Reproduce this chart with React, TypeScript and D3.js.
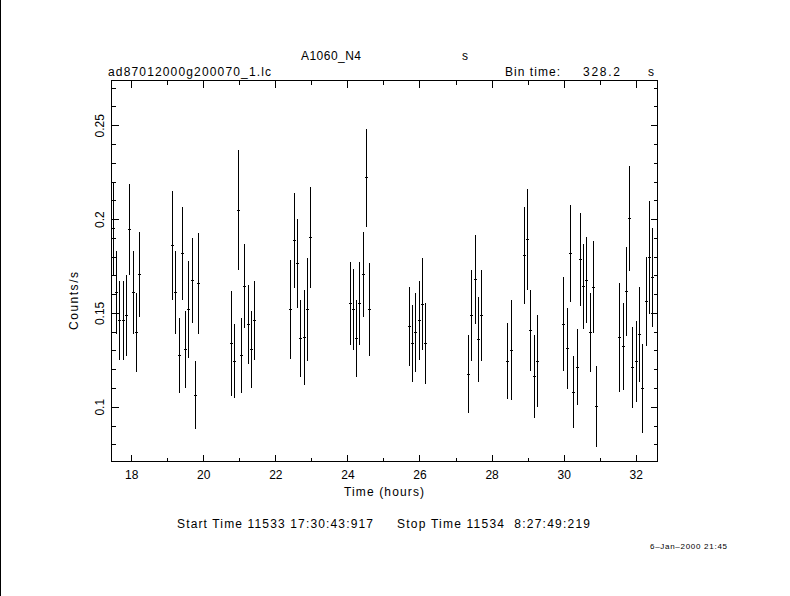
import React from "react";
import * as d3 from "d3";

// ---- data ----
const times: number[] = [
  17.490, 17.584, 17.668, 17.768, 17.851, 17.934, 18.056, 18.139, 18.212,
  19.139, 19.222, 19.322, 19.416, 19.488, 19.583, 19.683, 19.766, 19.849,
  20.776, 20.854, 20.959, 21.043, 21.126, 21.237, 21.320, 21.403,
  22.402, 22.514, 22.597, 22.680, 22.791, 22.874, 22.958,
  24.068, 24.151, 24.234, 24.318, 24.429, 24.512, 24.595,
  25.705, 25.789, 25.872, 25.983, 26.066, 26.149,
  27.343, 27.426, 27.537, 27.620, 27.704,
  28.425, 28.536, 28.897, 28.980, 29.063, 29.174, 29.258,
  29.980, 30.091, 30.174, 30.257, 30.368, 30.452, 30.535, 30.618, 30.729, 30.812, 30.896,
  31.534, 31.645, 31.728, 31.811, 31.894, 32.006, 32.089, 32.172, 32.283, 32.366, 32.450,
];
const rates: number[] = [
  0.195, 0.161, 0.1464, 0.1464, 0.1489, 0.1947, 0.161, 0.1399, 0.1707,
  0.1862, 0.161, 0.1277, 0.1819, 0.1309, 0.1521, 0.1677, 0.1064, 0.166,
  0.134, 0.1245, 0.205, 0.1277, 0.1645, 0.1441, 0.1309, 0.1463,
  0.1521, 0.1888, 0.1766, 0.1367, 0.1372, 0.1521, 0.1904,
  0.1553, 0.1521, 0.1367, 0.1553, 0.1707, 0.2223, 0.1521,
  0.1431, 0.134, 0.1399, 0.1463, 0.1549, 0.134,
  0.1176, 0.1489, 0.1681, 0.1362, 0.1489,
  0.1245, 0.1303, 0.1809, 0.1894, 0.141, 0.1165, 0.1245,
  0.1443, 0.1314, 0.1819, 0.108, 0.1213, 0.1787, 0.1644, 0.1676, 0.1399, 0.164, 0.1005,
  0.1372, 0.1324, 0.1617, 0.2005, 0.1213, 0.1245, 0.1388, 0.1101, 0.1564, 0.1798, 0.1691,
];
const errors: number[] = [
  0.0245, 0.022, 0.021, 0.021, 0.0217, 0.0242, 0.022, 0.0211, 0.0227,
  0.0291, 0.022, 0.0199, 0.0246, 0.0204, 0.026, 0.0227, 0.0182, 0.0268,
  0.0281, 0.0196, 0.0321, 0.0199, 0.0225, 0.0211, 0.0205, 0.0212,
  0.0262, 0.0254, 0.0236, 0.0207, 0.0252, 0.0273, 0.0268,
  0.022, 0.0218, 0.0207, 0.022, 0.0228, 0.0262, 0.0246,
  0.0209, 0.0204, 0.0209, 0.0212, 0.0244, 0.0215,
  0.0209, 0.0241, 0.0239, 0.0225, 0.0241,
  0.0202, 0.0266, 0.0257, 0.027, 0.0215, 0.022, 0.0245,
  0.025, 0.0216, 0.0257, 0.0193, 0.0202, 0.0246, 0.0226, 0.0229, 0.0209, 0.0245, 0.0217,
  0.0289, 0.0233, 0.0236, 0.0278, 0.0215, 0.0215, 0.0254, 0.0236, 0.0235, 0.0302, 0.0262,
];
const binTimeSec = 328.2;
const xMajorTicks: number[] = [18, 20, 22, 24, 26, 28, 30, 32];
const xMinorTicks: number[] = [19, 21, 23, 25, 27, 29, 31];
const yMajorTicks: number[] = [0.1, 0.15, 0.2, 0.25];
const yMinorTicks: number[] = [0.08, 0.09, 0.11, 0.12, 0.13, 0.14, 0.16, 0.17, 0.18, 0.19, 0.21, 0.22, 0.23, 0.24, 0.26, 0.27];
const xTickLabels: string[] = ["18", "20", "22", "24", "26", "28", "30", "32"];
const yTickLabels: string[] = ["0.1", "0.15", "0.2", "0.25"];

const W = 790;
const H = 596;
const L = 111.5, R = 657.5, T = 80.5, B = 461.5;
const FONT = "'Liberation Sans', Arial, sans-serif";

export default function App() {
  const x = d3.scaleLinear().domain([17.44, 32.59]).range([L, R]);
  const y = d3.scaleLinear().domain([0.0711, 0.2741]).range([B, T]);
  const half = binTimeSec / 3600 / 2;
  const px = (v: number) => Math.round(v - 0.5) + 0.5;

  const bars = times.map((t, i) => {
    const cx = px(x(t));
    const cy = px(y(rates[i]));
    return (
      <g key={i}>
        <line x1={cx} x2={cx} y1={y(rates[i] + errors[i])} y2={y(rates[i] - errors[i])} />
        <line x1={x(t - half)} x2={x(t + half)} y1={cy} y2={cy} />
      </g>
    );
  });

  const tickLines: JSX.Element[] = [];
  xMajorTicks.forEach((t, i) => {
    const xx = px(x(t));
    tickLines.push(<line key={"xb" + i} x1={xx} x2={xx} y1={B} y2={B - 7} />);
    tickLines.push(<line key={"xt" + i} x1={xx} x2={xx} y1={T} y2={T + 7} />);
  });
  xMinorTicks.forEach((t, i) => {
    const xx = px(x(t));
    tickLines.push(<line key={"xmb" + i} x1={xx} x2={xx} y1={B} y2={B - 4} />);
    tickLines.push(<line key={"xmt" + i} x1={xx} x2={xx} y1={T} y2={T + 4} />);
  });
  yMajorTicks.forEach((v, i) => {
    const yy = px(y(v));
    tickLines.push(<line key={"yl" + i} x1={L} x2={L + 7} y1={yy} y2={yy} />);
    tickLines.push(<line key={"yr" + i} x1={R} x2={R - 7} y1={yy} y2={yy} />);
  });
  yMinorTicks.forEach((v, i) => {
    const yy = px(y(v));
    tickLines.push(<line key={"yml" + i} x1={L} x2={L + 4} y1={yy} y2={yy} />);
    tickLines.push(<line key={"ymr" + i} x1={R} x2={R - 4} y1={yy} y2={yy} />);
  });

  return (
    <svg
      width={W}
      height={H}
      style={{ position: "absolute", left: 0, top: 0, background: "#fff" }}
      fontFamily={FONT}
    >
      <rect x={0} y={0} width={W} height={H} fill="#fff" />
      <line x1={0.5} x2={0.5} y1={0} y2={H} stroke="#000" strokeWidth={1} />
      <g stroke="#000" strokeWidth={1} shapeRendering="crispEdges" fill="none">
        <rect x={L} y={T} width={R - L} height={B - T} />
        {tickLines}
        {bars}
      </g>
      <g fill="#000" fontSize={12}>
        {xMajorTicks.map((t, i) => (
          <text key={"xl" + i} x={x(t)} y={479} textAnchor="middle">{xTickLabels[i]}</text>
        ))}
        {yMajorTicks.map((v, i) => (
          <text key={"ylab" + i} transform={`translate(103.5,${y(v)}) rotate(-90)`} textAnchor="middle">
            {yTickLabels[i]}
          </text>
        ))}
        <text x={384} y={496} textAnchor="middle" textLength={80} lengthAdjust="spacing">Time (hours)</text>
        <text transform="translate(77.5,301) rotate(-90)" textAnchor="middle" textLength={58} lengthAdjust="spacing">Counts/s</text>
        <text x={301} y={60} textLength={60} lengthAdjust="spacing">A1060_N4</text>
        <text x={462} y={60}>s</text>
        <text x={108} y={76} textLength={163} lengthAdjust="spacing">ad87012000g200070_1.lc</text>
        <text x={505} y={76} textLength={55} lengthAdjust="spacing">Bin time:</text>
        <text x={583} y={76} textLength={37} lengthAdjust="spacing">328.2</text>
        <text x={648} y={76}>s</text>
        <text x={177} y={528} textLength={196} lengthAdjust="spacing" xmlSpace="preserve" style={{ whiteSpace: "pre" }}>Start Time 11533 17:30:43:917</text>
        <text x={397} y={528} textLength={193} lengthAdjust="spacing" xmlSpace="preserve" style={{ whiteSpace: "pre" }}>{"Stop Time 11534  8:27:49:219"}</text>
        <text x={650} y={549} fontSize={8} textLength={77} lengthAdjust="spacing">6–Jan–2000 21:45</text>
      </g>
    </svg>
  );
}
